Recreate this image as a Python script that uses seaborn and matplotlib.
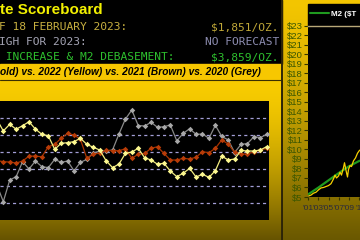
import matplotlib
matplotlib.use("Agg")
import numpy as np
import pandas as pd
import seaborn as sns
import matplotlib.pyplot as plt
from matplotlib.patches import Rectangle
from matplotlib.lines import Line2D
from matplotlib.colors import to_rgb

sns.set_theme(style="white")
plt.rcParams["font.family"] = ["Liberation Sans", "DejaVu Sans"]

# ---------------- data ----------------
weeks = list(range(-1, 42))
grey_2020 = [2.06, 1.08, 2.35, 2.55, 3.43, 3.00, 3.47, 3.14, 3.08, 3.57, 3.39,
             3.47, 2.90, 3.39, 3.57, 3.94, 4.06, 4.06, 4.12, 5.06, 5.94, 6.47,
             5.56, 5.53, 5.75, 5.45, 5.49, 5.59, 4.66, 5.10, 5.37, 5.04, 5.06,
             4.81, 5.57, 4.92, 4.71, 3.97, 4.45, 4.50, 4.90, 4.85, 5.04]
brown_2021 = [3.50, 3.43, 3.41, 3.35, 3.47, 3.76, 3.76, 3.72, 4.31, 4.45, 4.81,
              5.10, 5.00, 4.75, 3.63, 3.87, 3.94, 4.09, 4.08, 4.08, 4.19, 3.63,
              3.87, 3.92, 4.22, 4.31, 3.92, 3.53, 3.53, 3.63, 3.59, 3.69, 4.02,
              3.96, 4.22, 4.71, 4.47, 3.98, 3.88, 3.88, 4.02, 4.12, 4.21]
yellow_2022 = [5.92, 5.24, 5.63, 5.34, 5.55, 5.78, 5.35, 5.04, 4.96, 4.16, 4.51,
               4.55, 4.61, 4.81, 4.45, 4.28, 4.12, 3.49, 3.08, 3.29, 3.92, 4.00,
               4.22, 3.66, 3.53, 3.28, 3.34, 2.88, 2.55, 2.75, 3.04, 2.53, 2.69,
               2.51, 2.90, 3.76, 3.53, 3.59, 4.09, 4.06, 4.06, 4.12, 4.32]

m2_years = [2001.0, 2003.0, 2005.0, 2007.0, 2009.0, 2011.0, 2011.7]
m2_vals = [5.3, 6.0, 6.75, 7.5, 8.2, 8.75, 8.9]
gold_years = [2001.0, 2001.5, 2002.0, 2002.5, 2003.0, 2003.5, 2004.0, 2004.5,
              2005.0, 2005.5, 2006.0, 2006.3, 2006.6, 2007.0, 2007.3, 2007.6,
              2008.0, 2008.2, 2008.5, 2008.8, 2009.0, 2009.3, 2009.6, 2010.0,
              2010.4, 2010.8, 2011.2, 2011.6]
gold_vals = [5.1, 5.2, 5.4, 5.5, 5.75, 5.95, 6.0, 6.1, 6.2, 6.4, 6.9, 7.3, 7.0,
             7.2, 7.6, 7.3, 8.1, 8.6, 7.8, 7.1, 7.9, 8.3, 8.2, 8.8, 9.1, 9.6,
             9.9, 10.0]

y_ticks = list(range(5, 24))
y_tick_labels = [f"${v}" for v in y_ticks]
x_ticks = [2001, 2003, 2005, 2007, 2009, 2011]
x_tick_labels = ["'01", "'03", "'05", "'07", "'09", "'1"]

# ---------------- figure ----------------
fig = plt.figure(figsize=(3.6, 2.4), dpi=100)
fig.patch.set_facecolor("black")

bg = fig.add_axes([0, 0, 1, 1])
bg.axis("off")


def grad(c0, c1, gamma=1.6, n=240):
    t = np.linspace(0, 1, n) ** gamma
    a = np.array(to_rgb(c0)); b = np.array(to_rgb(c1))
    arr = (1 - t)[:, None] * a + t[:, None] * b
    return arr[:, None, :]


bg.imshow(grad("#f8cc00", "#665300"), extent=(0, 281.5, 240, 80),
          aspect="auto", interpolation="bilinear")
bg.imshow(grad("#f4c600", "#6a5800", gamma=1.3), extent=(282.5, 360, 240, 0),
          aspect="auto", interpolation="bilinear")
bg.add_patch(Rectangle((0, 0), 281.5, 63.5, color="black"))
bg.add_patch(Rectangle((0, 63.5), 281.5, 16, color="#f7c700"))
bg.plot([0, 281.5], [80, 80], color="#3a3000", lw=0.8)
bg.plot([282, 282], [0, 240], color="#2e2608", lw=1.4)
bg.add_patch(Rectangle((308, 4), 60, 21.7, color="black"))
bg.set_xlim(0, 360)
bg.set_ylim(240, 0)

# header texts
bg.text(0.5, 10.5, "te Scoreboard", color="#f2f000", fontsize=11,
        fontweight="bold", va="center", ha="left")
mono = dict(family="DejaVu Sans Mono", fontsize=8.1, va="center")
bg.text(-1, 27, "F 18 FEBRUARY 2023:", color="#c8b040", ha="left", **mono)
bg.text(279, 27, "$1,851/OZ.", color="#c0a838", ha="right", **mono)
bg.text(-1, 42, "IGH FOR 2023:", color="#a4a4b4", ha="left", **mono)
bg.text(279, 42, "NO FORECAST", color="#8c8cb0", ha="right", **mono)
bg.text(-1, 57, " INCREASE & M2 DEBASEMENT:", color="#2ec02e", ha="left", **mono)
bg.text(279, 57, "$3,859/OZ.", color="#2ec02e", ha="right", **mono)
bg.text(-0.5, 72, "old) vs. 2022 (Yellow) vs. 2021 (Brown) vs. 2020 (Grey)",
        color="black", fontsize=7.3, fontweight="bold", style="italic",
        va="center", ha="left")

# ---------------- left chart ----------------
ax = fig.add_axes([0, 1 - 220 / 240, 269 / 360, 119.3 / 240])
ax.set_facecolor("black")
for g in range(1, 7):
    ax.axhline(g, color="#a29ed6", lw=0.9, ls=(0, (2.5, 2.5)), zorder=0)

df = pd.DataFrame({"week": weeks * 3,
                   "value": grey_2020 + brown_2021 + yellow_2022,
                   "year": ["2020"] * len(weeks) + ["2021"] * len(weeks)
                   + ["2022"] * len(weeks)})
styles = {"2020": ("#8a8a8a", "#a8a8a8"),
          "2021": ("#a63300", "#b83c08"),
          "2022": ("#f4ee80", "#fcf890")}
for yr in ["2020", "2021", "2022"]:
    lc, mc = styles[yr]
    sns.lineplot(data=df[df.year == yr], x="week", y="value", ax=ax,
                 color=lc, lw=0.9, marker="D", markersize=2.8,
                 markerfacecolor=mc, markeredgewidth=0, legend=False)
ax.set_xlim(-0.514, 41.35)
ax.set_ylim(0, 7.02)
ax.set_xticks([]); ax.set_yticks([])
ax.set_xlabel(""); ax.set_ylabel("")
for s in ax.spines.values():
    s.set_visible(False)

# ---------------- right inset ----------------
ax2 = fig.add_axes([308 / 360, 1 - 197 / 240, 54 / 360, (197 - 25.7) / 240])
ax2.set_facecolor("black")
sns.lineplot(x=m2_years, y=m2_vals, ax=ax2, color="#1f9a1f", lw=1.6)
sns.lineplot(x=gold_years, y=gold_vals, ax=ax2, color="#f5d000", lw=0.9)
ax2.set_xlim(2000.9, 2000.9 + 54 / 5)
ax2.set_ylim(5, 23)
ax2.set_yticks(y_ticks)
ax2.set_yticklabels(y_tick_labels, color="#3a5600", fontsize=6.8)
ax2.set_xticks(x_ticks)
ax2.set_xticklabels(x_tick_labels, color="#2c2c3c", fontsize=6)
ax2.tick_params(axis="y", length=3, width=0.8, color="#333300", pad=1, left=True)
ax2.tick_params(axis="x", length=2, width=0.8, color="#333300", pad=4, bottom=True)
for k, s in ax2.spines.items():
    s.set_visible(k == "top")
ax2.spines["top"].set_color("#b8a878")
ax2.spines["top"].set_linewidth(1)
h = Line2D([], [], color="#1f9a1f", lw=1.5)
leg = ax2.legend([h], ["M2 ($T"], loc="upper left",
                 bbox_to_anchor=(310 / 360, 1 - 10.5 / 240),
                 bbox_transform=fig.transFigure, frameon=False,
                 handlelength=2.4, handletextpad=0.2, borderpad=0,
                 borderaxespad=0, prop=dict(size=5.8, weight="bold"))
for t in leg.get_texts():
    t.set_color("white")

fig.savefig("out.png", dpi=100, facecolor=fig.get_facecolor())
